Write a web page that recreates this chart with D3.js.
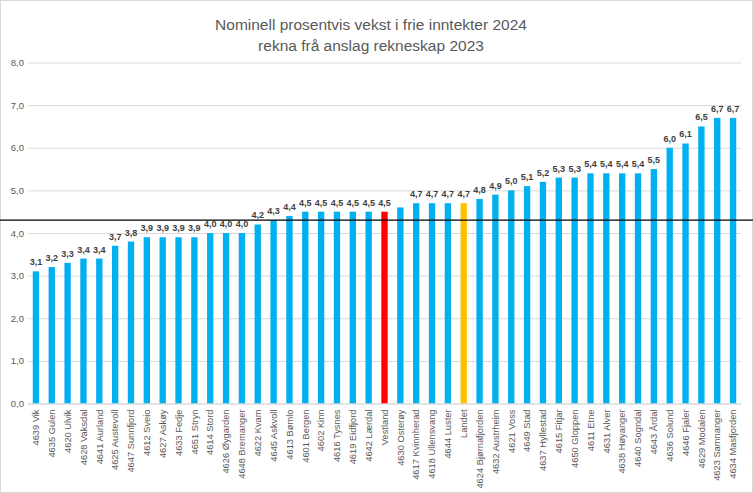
<!DOCTYPE html>
<html><head><meta charset="utf-8">
<script src="https://cdn.jsdelivr.net/npm/d3@7"></script>
<style>body{margin:0;background:#fff}svg{display:block;font-family:"Liberation Sans",Arial,sans-serif}</style>
</head><body><svg id="c" width="753" height="493"></svg>
<script>
const categories = ["4639 Vik","4635 Gulen","4620 Ulvik","4628 Vaksdal","4641 Aurland","4625 Austevoll","4647 Sunnfjord","4612 Sveio","4627 Askøy","4633 Fedje","4651 Stryn","4614 Stord","4626 Øygarden","4648 Bremanger","4622 Kvam","4645 Askvoll","4613 Bømlo","4601 Bergen","4602 Kinn","4616 Tysnes","4619 Eidfjord","4642 Lærdal","Vestland","4630 Osterøy","4617 Kvinnherad","4618 Ullensvang","4644 Luster","Landet","4624 Bjørnafjorden","4632 Austrheim","4621 Voss","4649 Stad","4637 Hyllestad","4615 Fitjar","4650 Gloppen","4611 Etne","4631 Alver","4638 Høyanger","4640 Sogndal","4643 Årdal","4636 Solund","4646 Fjaler","4629 Modalen","4623 Samnanger","4634 Masfjorden"];
const values = [3.1,3.2,3.3,3.4,3.4,3.7,3.8,3.9,3.9,3.9,3.9,4.0,4.0,4.0,4.2,4.3,4.4,4.5,4.5,4.5,4.5,4.5,4.5,4.6,4.7,4.7,4.7,4.7,4.8,4.9,5.0,5.1,5.2,5.3,5.3,5.4,5.4,5.4,5.4,5.5,6.0,6.1,6.5,6.7,6.7];
const hiddenLabels = ["4630 Osterøy"];
const highlight = {"Vestland":"#FF0000","Landet":"#FFC000"};
const referenceLine = 4.3;
const yTicks = [0,1,2,3,4,5,6,7,8];
const titleLines = ["Nominell prosentvis vekst i frie inntekter 2024","rekna frå anslag rekneskap 2023"];

const svg = d3.select("#c");
const W = 753, H = 493;
const m = {left:28, right:12, top:62.5, bottom:89.5};
const x = d3.scaleBand().domain(categories).range([m.left, W - m.right]).paddingInner(0.6).paddingOuter(0.3);
const y = d3.scaleLinear().domain([0,8]).range([H - m.bottom, m.top]);

svg.append("rect").attr("x",0.5).attr("y",0.5).attr("width",W-1).attr("height",H-1).attr("fill","none").attr("stroke","#D9D9D9");

svg.append("g").selectAll("text").data(titleLines).join("text")
  .attr("x", 371).attr("y",(d,i)=>30 + i*21).attr("text-anchor","middle")
  .attr("font-size",15.5).attr("fill","#595959").text(d=>d);

const yAxis = d3.axisLeft(y).tickValues(yTicks).tickSize(-(W - m.right - m.left)).tickFormat(d=>d3.format(".1f")(d).replace(".",","));
const gy = svg.append("g").attr("transform",`translate(${m.left},0)`).call(yAxis);
gy.select(".domain").remove();
gy.selectAll(".tick line").attr("stroke","#D9D9D9").attr("stroke-width",1);
gy.selectAll(".tick text").attr("x",-4).attr("font-size",9.5).attr("fill","#595959").attr("font-family","Liberation Sans, Arial, sans-serif");

svg.append("g").selectAll("rect").data(categories).join("rect")
  .attr("x", d=>x(d)).attr("width", x.bandwidth())
  .attr("y", (d,i)=>y(values[i])).attr("height",(d,i)=>y(0)-y(values[i]))
  .attr("fill", d=>highlight[d] || "#00B0F0");

svg.append("g").selectAll("text").data(categories.filter(d=>!hiddenLabels.includes(d))).join("text")
  .attr("x", d=>x(d)+x.bandwidth()/2)
  .attr("y", d=>y(values[categories.indexOf(d)]) - 6)
  .attr("text-anchor","middle").attr("font-size",9).attr("font-weight","bold").attr("fill","#404040")
  .text(d=>d3.format(".1f")(values[categories.indexOf(d)]).replace(".",","));

const xAxis = d3.axisBottom(x).tickSize(0);
const gx = svg.append("g").attr("transform",`translate(0,${y(0)})`).call(xAxis);
gx.select(".domain").attr("stroke","#D9D9D9");
gx.selectAll(".tick text").attr("transform","rotate(-90)").attr("text-anchor","end")
  .attr("x",-6).attr("y",0).attr("dy","0.35em").attr("font-size",9.3).attr("fill","#595959")
  .attr("font-family","Liberation Sans, Arial, sans-serif");

svg.append("line").attr("x1",0).attr("x2",W).attr("y1",y(referenceLine)).attr("y2",y(referenceLine))
  .attr("stroke","#000").attr("stroke-width",1.3);
</script></body></html>
